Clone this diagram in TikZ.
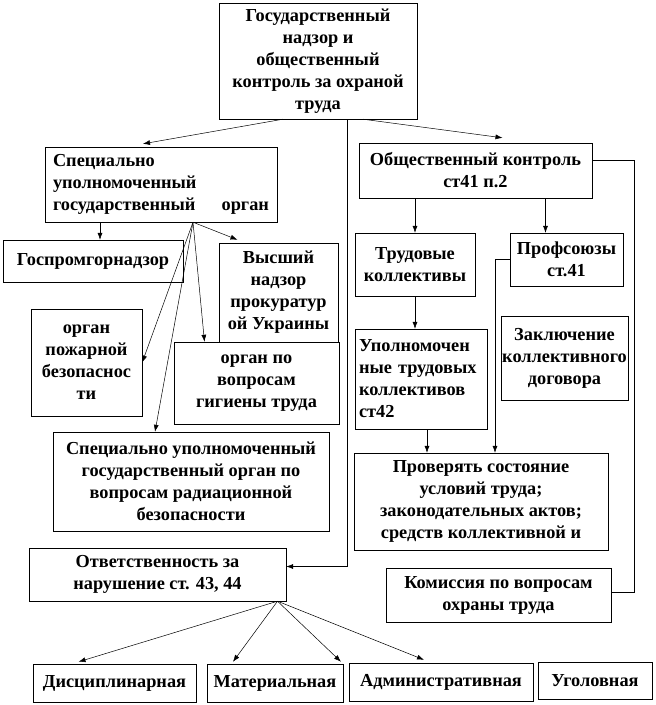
\documentclass[tikz,border=0pt]{standalone}
\usepackage{fontspec}
\setmainfont{Liberation Serif}
\usetikzlibrary{arrows.meta}

\begin{document}
\begin{tikzpicture}
[x=1pt,y=-1pt,
box/.style={draw,fill=white,align=center,inner sep=1pt,font=\bfseries\fontsize{18.3}{22}\selectfont},
boxSize/.style 2 args={minimum width=#1pt,minimum height=#2pt},
edge/.style={line width=0.5pt},
rightEnd/.style={-{Latex[length=7pt,width=5pt]}}]
\useasboundingbox (0,0) rectangle (656,705);
\node[box,boxSize={198}{116}] (gos) at (318,61) {Государственный\\надзор и\\общественный\\контроль за охраной\\труда};
\node[box,boxSize={232}{75},align=left,text width=216pt] (spec) at (161,184.5) {Специально\\уполномоченный\\государственный\hfill орган};
\node[box,boxSize={180}{42}] (gpn) at (93,261) {Госпромгорнадзор};
\node[box,boxSize={119}{99}] (vys) at (278.5,292.5) {Высший\\надзор\\прокуратур\\ой Украины};
\node[box,boxSize={111}{107}] (pozh) at (86.5,362.5) {орган\\пожарной\\безопаснос\\ти};
\node[box,boxSize={165}{82}] (gig) at (256.5,383) {орган по\\вопросам\\гигиены труда};
\node[box,boxSize={276}{99}] (rad) at (191,481.5) {Специально уполномоченный\\государственный орган по\\вопросам радиационной\\безопасности};
\node[box,boxSize={233}{55}] (obsh) at (475.5,170.5) {Общественный контроль\\ст41 п.2};
\node[box,boxSize={120}{63}] (trud) at (415,264.5) {Трудовые\\коллективы};
\node[box,boxSize={113}{53}] (prof) at (566.5,259.5) {Профсоюзы\\ст.41};
\node[box,boxSize={132}{100},align=left,text width=124pt] (upol) at (421,379) {Уполномочен\\ные трудовых\\коллективов\\ст42};
\node[box,boxSize={125}{84}] (zakl) at (564.5,358) {Заключение\\коллективного\\договора};
\node[box,boxSize={254}{97}] (prov) at (481,501.5) {Проверять состояние\\условий труда;\\законодательных актов;\\средств коллективной и};
\node[box,boxSize={225}{54}] (kom) at (498.5,595) {Комиссия по вопросам\\охраны труда};
\node[box,boxSize={257}{53}] (otv) at (157.5,574.5) {Ответственность за\\нарушение ст. 43, 44};
\node[box,boxSize={163}{38}] (disc) at (114.5,683) {Дисциплинарная};
\node[box,boxSize={136}{38}] (mat) at (275,683) {Материальная};
\node[box,boxSize={184}{38}] (adm) at (441,682) {Административная};
\node[box,boxSize={114}{37}] (ugol) at (595,680.5) {Уголовная};
% from the top box
\draw[edge,rightEnd] ([xshift=-35pt]gos.south) -- ([xshift=-18pt,yshift=3pt]spec.north);
\draw[edge,rightEnd] ([xshift=45pt]gos.south) -- ([xshift=27pt,yshift=5pt]obsh.north);
\draw[edge,rightEnd] ([xshift=29pt]gos.south) |- ([yshift=8pt]otv.east);
% state bodies
\draw[edge,rightEnd] ([xshift=-61pt]spec.south) -- ([xshift=-61pt]spec.south |- gpn.north);
\draw[edge,rightEnd] ([xshift=32pt]spec.south) -- ([xshift=-41pt,yshift=3pt]vys.north);
\draw[edge,rightEnd] ([xshift=32pt]spec.south) -- ([xshift=-52pt]gig.north);
\draw[edge,rightEnd] ([xshift=32pt]spec.south) -- (pozh.east);
\draw[edge,rightEnd] ([xshift=32pt]spec.south) -- ([xshift=-36pt]rad.north);
% public control
\draw[edge,rightEnd] (trud.north |- obsh.south) -- (trud.north);
\draw[edge,rightEnd] ([xshift=-21pt]prof.north |- obsh.south) -- ([xshift=-21pt]prof.north);
\draw[edge,rightEnd] (trud.south) -- (trud.south |- upol.north);
\draw[edge,rightEnd] ([xshift=6pt]upol.south) -- ([xshift=6pt]upol.south |- prov.north);
\draw[edge,rightEnd] (prof.west) -| ([xshift=14pt]prov.north);
\draw[edge] ([yshift=10pt]obsh.east) -- ++(42,0) |- ([yshift=3pt]kom.east);
% kinds of responsibility
\draw[edge,rightEnd] ([xshift=120pt]otv.south) -- ([xshift=-36pt,yshift=2pt]disc.north);
\draw[edge,rightEnd] ([xshift=120pt]otv.south) -- ([xshift=-42pt,yshift=2pt]mat.north);
\draw[edge,rightEnd] ([xshift=120pt]otv.south) -- ([xshift=66pt,yshift=2pt]mat.north);
\draw[edge,rightEnd] ([xshift=120pt]otv.south) -- ([xshift=-17pt,yshift=3pt]adm.north);
\end{tikzpicture}
\end{document}
